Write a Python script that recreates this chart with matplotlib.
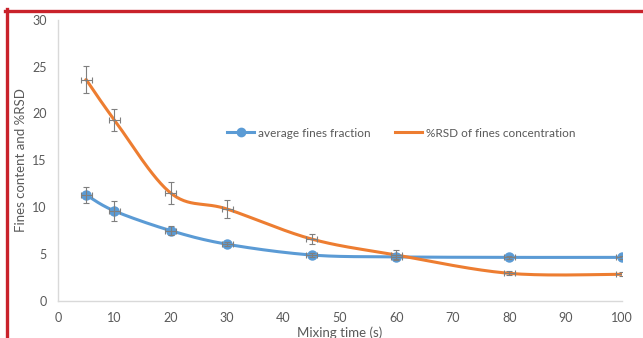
import matplotlib
matplotlib.use("Agg")
import matplotlib.pyplot as plt
from matplotlib.lines import Line2D
import numpy as np

plt.rcParams['font.family'] = ['Lato', 'DejaVu Sans']

# data
mixing_time = [5, 10, 20, 30, 45, 60, 80, 100]
fines_avg = [11.3, 9.6, 7.5, 6.05, 4.9, 4.7, 4.65, 4.65]
fines_err = [0.8, 1.05, 0.45, 0.2, 0.2, 0.2, 0.15, 0.15]
rsd = [23.6, 19.3, 11.5, 9.8, 6.6, 4.9, 2.95, 2.85]
rsd_err = [1.45, 1.15, 1.2, 1.0, 0.55, 0.55, 0.2, 0.2]
time_err = [1, 1, 1, 1, 1, 1, 1, 1]

blue = '#5B9BD5'
orange = '#ED7D31'
grey_txt = '#595959'


def smooth(xs, ys, sx=5.64, sy=9.37, n=30):
    # excel style smoothed line (bezier with control points from neighbours)
    p = np.column_stack([np.array(xs) * sx, np.array(ys) * sy])
    pts = [p[0]] + list(p) + [p[-1]]
    out = []
    for i in range(1, len(pts) - 2):
        p0, p1, p2, p3 = pts[i - 1], pts[i], pts[i + 1], pts[i + 2]
        c1 = p1 + (p2 - p0) / 6
        c2 = p2 - (p3 - p1) / 6
        t = np.linspace(0, 1, n)[:, None]
        seg = (1 - t) ** 3 * p1 + 3 * (1 - t) ** 2 * t * c1 + 3 * (1 - t) * t ** 2 * c2 + t ** 3 * p2
        out.append(seg)
    out = np.vstack(out)
    return out[:, 0] / sx, out[:, 1] / sy


fig = plt.figure(figsize=(6.43, 3.38), dpi=100)
ax = fig.add_axes([0.0902, 0.1095, 0.8771, 0.8325])

bx, by = smooth(mixing_time, fines_avg)
ox, oy = smooth(mixing_time, rsd)
ax.plot(bx, by, color=blue, lw=2.2, zorder=3)
ax.plot(ox, oy, color=orange, lw=2.2, zorder=3)
ax.plot(mixing_time, fines_avg, 'o', color=blue, ms=6.5, zorder=4)

ax.errorbar(mixing_time, fines_avg, yerr=fines_err, xerr=time_err, fmt='none',
            ecolor='#7F7F7F', elinewidth=0.8, capsize=2.5, capthick=0.8, zorder=5)
ax.errorbar(mixing_time, rsd, yerr=rsd_err, xerr=time_err, fmt='none',
            ecolor='#7F7F7F', elinewidth=0.8, capsize=2.5, capthick=0.8, zorder=5)

ax.set_xlim(0, 100)
ax.set_ylim(0, 30)
ax.set_xticks(range(0, 101, 10))
ax.set_yticks(range(0, 31, 5))
ax.tick_params(length=0, labelsize=9, colors=grey_txt, pad=8)
for s in ['top', 'right']:
    ax.spines[s].set_visible(False)
for s in ['left', 'bottom']:
    ax.spines[s].set_color('#D9D9D9')
    ax.spines[s].set_linewidth(1)

ax.set_xlabel('Mixing time (s)', fontsize=9.5, color=grey_txt, labelpad=2)
ax.set_ylabel('Fines content and %RSD', fontsize=9.5, color=grey_txt, labelpad=4)

handles = [Line2D([], [], color=blue, lw=2.2, marker='o', ms=6),
           Line2D([], [], color=orange, lw=2.2)]
ax.legend(handles, ['average fines fraction', '%RSD of fines concentration'],
          loc='center left', bbox_to_anchor=(0.281, 0.597), ncol=2, frameon=False,
          fontsize=8.5, labelcolor=grey_txt, handlelength=2.3, handletextpad=0.3,
          columnspacing=2.1)

# red frame around the figure (top and left edges visible)
fig.add_artist(Line2D([5 / 643, 1], [1 - 10.5 / 338, 1 - 10.5 / 338],
                      transform=fig.transFigure, color='#C9222B', lw=2.4))
fig.add_artist(Line2D([6.5 / 643, 6.5 / 643], [1 - 9 / 338, 0],
                      transform=fig.transFigure, color='#C9222B', lw=2.4))

fig.savefig('out.png', dpi=100)
